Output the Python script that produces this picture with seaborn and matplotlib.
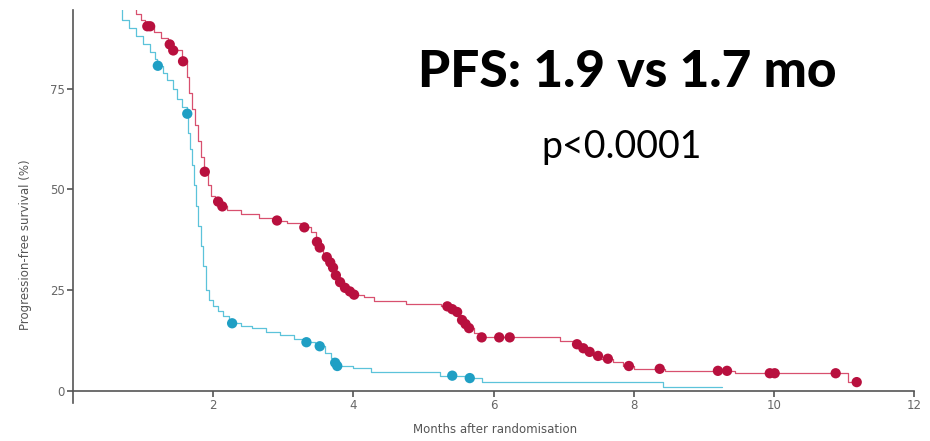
import numpy as np
import pandas as pd
import matplotlib
matplotlib.use("Agg")
import matplotlib.pyplot as plt
import seaborn as sns

# ---- data ----
red_t = [0.0, 0.5, 0.7, 0.8, 0.9, 0.97, 1.03, 1.15, 1.25, 1.35, 1.42, 1.55, 1.62, 1.66, 1.7, 1.74,
         1.78, 1.83, 1.87, 1.92, 1.97, 2.03, 2.1, 2.2, 2.4, 2.65, 2.85, 3.05, 3.25, 3.4, 3.46, 3.51,
         3.57, 3.62, 3.66, 3.7, 3.74, 3.8, 3.86, 3.93, 3.99, 4.15, 4.3, 4.75, 5.25, 5.38, 5.45, 5.5,
         5.55, 5.6, 5.65, 5.72, 5.8, 6.95, 7.15, 7.25, 7.33, 7.42, 7.5, 7.7, 7.85, 8.0, 8.45, 9.45,
         11.06, 11.2]
red_s = [100, 99, 97, 95.5, 93.5, 92, 90.5, 89, 87.5, 86, 84.5, 81.8, 78, 74, 70, 66,
         62, 58, 54.4, 51, 48.5, 47, 45.8, 44.8, 43.8, 43, 42.3, 41.6, 40.6, 39.4, 37.0, 35.6,
         34.3, 33.2, 31.9, 30.6, 28.7, 27.0, 25.6, 24.7, 23.9, 23.2, 22.3, 21.5, 21, 20.3, 19.6, 18.6,
         17.6, 16.6, 15.6, 14.5, 13.3, 12.5, 11.6, 10.6, 9.7, 8.7, 8.0, 7.2, 6.2, 5.5, 5.0, 4.4,
         2.2, 2.2]
red_cens = [1.06, 1.1, 1.38, 1.43, 1.57, 1.88, 2.07, 2.13, 2.91, 3.3, 3.48, 3.52, 3.62, 3.67, 3.71,
            3.75, 3.81, 3.88, 3.95, 4.01, 5.34, 5.41, 5.48, 5.55, 5.6, 5.65, 5.83, 6.08, 6.23, 7.19,
            7.28, 7.37, 7.49, 7.63, 7.93, 8.37, 9.2, 9.33, 9.94, 10.01, 10.88, 11.18]

blue_t = [0.0, 0.3, 0.5, 0.6, 0.7, 0.8, 0.9, 1.0, 1.1, 1.17, 1.2, 1.28, 1.34, 1.42, 1.48, 1.56,
          1.62, 1.64, 1.67, 1.7, 1.73, 1.76, 1.79, 1.83, 1.86, 1.9, 1.94, 2.0, 2.07, 2.14, 2.22,
          2.26, 2.4, 2.55, 2.75, 2.95, 3.15, 3.3, 3.45, 3.6, 3.68, 3.73, 3.76, 4.0, 4.25, 5.24,
          5.6, 5.83, 8.41, 9.26]
blue_s = [100, 99, 97, 95, 92, 90, 88, 86, 84, 82.5, 80.7, 79, 77.2, 75, 72.5, 70.5,
          68.8, 64, 60, 56, 51, 46, 41, 36, 31, 25, 22.5, 21, 19.8, 18.6, 17.4,
          16.8, 16.2, 15.6, 14.6, 13.8, 13.0, 12.1, 11.1, 9.5, 8.2, 7.0, 6.2, 5.6, 4.7, 3.8,
          3.2, 2.2, 1.0, 1.0]
blue_cens = [1.21, 1.63, 2.27, 3.33, 3.52, 3.74, 3.77, 5.41, 5.66]

x_ticks = [2, 4, 6, 8, 10, 12]
y_ticks = [0, 25, 50, 75]
title_text = "PFS: 1.9 vs 1.7 mo"
p_text = "p<0.0001"

RED_LINE, RED_DOT = "#d8506f", "#b8103e"
BLUE_LINE, BLUE_DOT = "#5cc3da", "#1f9fc4"

sns.set_theme(style="white")
plt.rcParams['font.family'] = ['DejaVu Sans']

fig = plt.figure(figsize=(9.3, 4.41), dpi=100)
ax = fig.add_axes([0.0785, 0.086, 0.9045, 0.891])

curves = pd.concat([
    pd.DataFrame({"t": red_t, "s": red_s, "arm": "red"}),
    pd.DataFrame({"t": blue_t, "s": blue_s, "arm": "blue"}),
])
sns.lineplot(data=curves, x="t", y="s", hue="arm", palette={"red": RED_LINE, "blue": BLUE_LINE},
             drawstyle="steps-post", linewidth=0.9, legend=False, ax=ax, estimator=None, sort=False)

def level(ts, ss, c):
    idx = np.searchsorted(np.array(ts), np.array(c), side="right") - 1
    return np.array(ss)[idx]

cens = pd.concat([
    pd.DataFrame({"t": red_cens, "s": level(red_t, red_s, red_cens), "arm": "red"}),
    pd.DataFrame({"t": blue_cens, "s": level(blue_t, blue_s, blue_cens), "arm": "blue"}),
])
sns.scatterplot(data=cens, x="t", y="s", hue="arm", palette={"red": RED_DOT, "blue": BLUE_DOT},
                s=55, linewidth=0, legend=False, ax=ax, zorder=3)

ax.set_xlim(0, 12)
ax.set_ylim(-3, 94.5)
ax.spines['bottom'].set_position(('data', 0))
for sp in ['top', 'right']:
    ax.spines[sp].set_visible(False)
for sp in ['left', 'bottom']:
    ax.spines[sp].set_color('#555555')
    ax.spines[sp].set_linewidth(1.2)
ax.set_xticks(x_ticks)
ax.set_yticks(y_ticks)
ax.tick_params(axis='both', which='major', direction='out', length=4, width=1.2, color='#555555',
               labelsize=8.5, labelcolor='#666666', pad=2, left=True, bottom=True)
ax.set_xlabel("")
ax.set_ylabel("")
fig.text(0.532, 0.025, "Months after randomisation", ha='center', va='center', fontsize=8.5, color='#555555')
fig.text(0.027, 0.445, "Progression-free survival (%)", ha='center', va='center', rotation=90,
         fontsize=8.5, color='#555555')

fig.text(0.674, 0.802, title_text, ha='center', va='baseline', fontsize=37, fontweight='black',
         family=['Lato', 'DejaVu Sans'], color='black')
fig.text(0.668, 0.642, p_text, ha='center', va='baseline', fontsize=27,
         family=['Lato', 'DejaVu Sans'], color='black')

fig.savefig("out.png", dpi=100, facecolor='white')
